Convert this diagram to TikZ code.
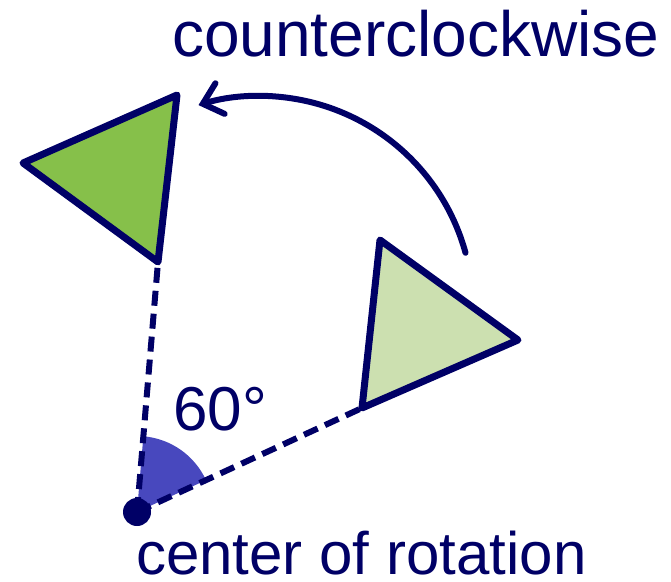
\documentclass[tikz,border=0pt]{standalone}
\usepackage{fontspec}
\setmainfont{Liberation Sans}
\usetikzlibrary{arrows.meta}
\definecolor{navy}{RGB}{0,0,102}
\definecolor{sectorblue}{RGB}{72,72,190}
\definecolor{darkgreen}{RGB}{134,192,74}
\definecolor{lightgreen}{RGB}{204,224,176}
\tikzset{
  tri/.style={draw=navy, line width=7pt, line join=round},
  dashline/.style={draw=navy, line width=6pt, dash pattern=on 15pt off 8pt},
  lbl/.style={inner sep=0pt, text=navy, anchor=base west},
}
\begin{document}
\begin{tikzpicture}[x=1pt,y=1pt]
\useasboundingbox (0,0) rectangle (671,581);
\coordinate (C) at (137,69);
% original triangle
\coordinate (A1) at (380,341);
\coordinate (A2) at (518,241);
\coordinate (A3) at (362,173);
% rotated triangle
\coordinate (B1) at (23,418);
\coordinate (B2) at (177,486);
\coordinate (B3) at (158,319);
% angle sector
\fill[sectorblue] (C) -- ++(24.8:76) arc[start angle=24.8, end angle=85.2, radius=76] -- cycle;
% dashed lines
\draw[dashline] (C) -- (A3);
\draw[dashline] (C) -- (B3);
% triangles
\filldraw[tri, fill=lightgreen] (A1) -- (A2) -- (A3) -- cycle;
\filldraw[tri, fill=darkgreen] (B1) -- (B2) -- (B3) -- cycle;
% center dot
\fill[navy] (C) circle[radius=14];
% rotation arrow
\coordinate (S) at (465.5,328.2);
\draw[navy, line width=6pt, line cap=round, -{Straight Barb[length=18pt,width=32pt,line cap=round]}]
  (S) arc[start angle=15.3, end angle=106.8, radius=213];
% labels
\node[lbl, font=\fontsize{64}{77}\selectfont] (ccw) at (172,524) {counterclockwise};
\node[lbl, font=\fontsize{62}{74}\selectfont] (ang) at (173,151) {60°};
\node[lbl, font=\fontsize{60}{72}\selectfont] (cor) at (136,7) {center of rotation};
\end{tikzpicture}
\end{document}
